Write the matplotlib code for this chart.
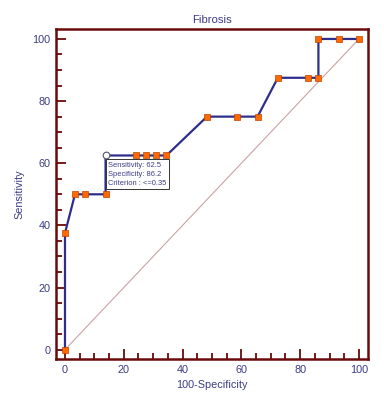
import matplotlib
matplotlib.use("Agg")
import matplotlib.pyplot as plt
from matplotlib.ticker import MultipleLocator

plt.rcParams['font.family'] = ['Liberation Sans', 'DejaVu Sans']

title = "Fibrosis"
x_label = "100-Specificity"
y_label = "Sensitivity"
fpr = [0, 0, 3.4, 6.9, 13.8, 13.8, 24.1, 27.6, 31.0, 34.5, 48.3, 58.6, 65.5, 72.4, 82.8, 86.2, 86.2, 93.1, 100]
tpr = [0, 37.5, 50, 50, 50, 62.5, 62.5, 62.5, 62.5, 62.5, 75, 75, 75, 87.5, 87.5, 87.5, 100, 100, 100]
sel_index = 5
tooltip_lines = ["Sensitivity: 62.5", "Specificity: 86.2", "Criterion : <=0.35"]

navy = "#2e2e8a"
text_col = "#3c3c86"
maroon = "#6a0a0a"
orange = "#ff6a00"

fig = plt.figure(figsize=(3.84, 3.99), dpi=100)
ax = fig.add_axes([0.1458, 0.1003, 0.8125, 0.827])

ax.plot([0, 100], [0, 100], color="#c9a3a3", lw=0.8, zorder=1)
ax.plot(fpr, tpr, color=navy, lw=1.6, zorder=2)
mx = [v for i, v in enumerate(fpr) if i != sel_index]
my = [v for i, v in enumerate(tpr) if i != sel_index]
ax.plot(mx, my, ls="none", marker="s", ms=4.6, mfc=orange, mec="#c04000", mew=0.5, zorder=3)
ax.plot([fpr[sel_index]], [tpr[sel_index]], ls="none", marker="o", ms=4.8, mfc="white", mec="#555566", mew=0.8, zorder=4)

ax.text(fpr[sel_index] + 1.0, tpr[sel_index] - 2.0, "\n".join(tooltip_lines),
        fontsize=5.4, color=text_col, va="top", ha="left", linespacing=1.45, zorder=5,
        bbox=dict(boxstyle="square,pad=0.3", fc="white", ec="#333333", lw=0.7))

ax.set_xlim(-3.06, 103.06)
ax.set_ylim(-3.0, 103.2)
ax.xaxis.set_major_locator(MultipleLocator(20))
ax.xaxis.set_minor_locator(MultipleLocator(5))
ax.yaxis.set_major_locator(MultipleLocator(20))
ax.yaxis.set_minor_locator(MultipleLocator(5))
ax.tick_params(which="both", direction="in", color=maroon, width=1.3, labelcolor=text_col, labelsize=7.8)
ax.tick_params(which="major", length=7, pad=4)
ax.tick_params(which="minor", length=4)
for s in ax.spines.values():
    s.set_color(maroon)
    s.set_linewidth(1.8)

ax.set_title(title, fontsize=8.2, color=text_col, pad=4)
ax.set_xlabel(x_label, fontsize=7.8, color=text_col, labelpad=4)
ax.set_ylabel(y_label, fontsize=7.8, color=text_col, labelpad=6)

fig.savefig("out.png", dpi=100)
